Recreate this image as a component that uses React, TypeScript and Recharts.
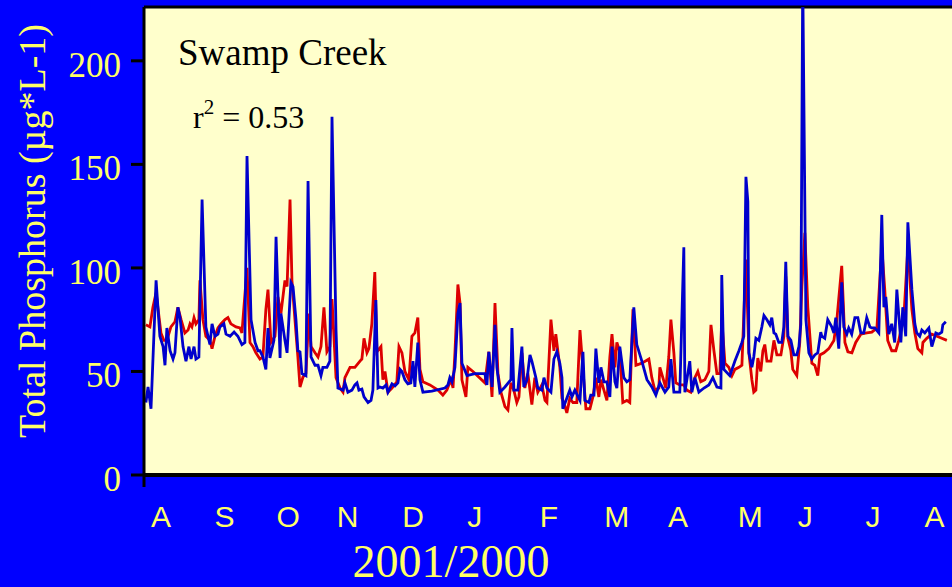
import React from 'react';
import { LineChart, Line, XAxis, YAxis, CartesianGrid, ReferenceLine } from 'recharts';

// Days since start of record (Aug 2000) and Total Phosphorus (µg/L)
const blueDays = [0.9,1.9,3.3,5.7,7.5,9.0,9.9,10.8,12.3,13.7,14.6,16.0,17.0,18.4,19.8,21.2,22.2,23.6,24.5,25.9,27.4,29.2,31.1,32.1,33.5,34.9,35.8,37.7,38.7,40.6,42.5,44.3,46.2,47.6,48.6,50.5,52.4,53.8,54.7,56.1,57.5,58.5,59.4,61.3,62.3,64.2,64.6,66.5,67.5,69.3,70.3,71.7,72.6,73.6,74.5,76.4,77.4,78.8,80.7,82.1,83.5,84.4,86.3,87.7,88.7,90.6,91.5,93.9,94.8,96.2,98.1,99.5,100.5,101.4,102.8,103.8,105.7,107.1,108.0,109.4,110.4,111.3,112.7,114.2,115.1,117.0,118.4,119.8,120.8,121.7,123.1,124.5,125.9,126.9,127.8,129.2,130.2,131.6,135.8,142.0,143.4,144.3,145.3,146.7,148.1,149.1,150.0,152.4,156.1,160.8,161.8,162.7,164.2,165.6,166.5,167.9,170.3,173.1,173.6,174.5,176.4,178.3,179.2,180.7,182.1,183.0,184.9,185.8,187.7,188.7,190.1,192.0,193.4,194.8,196.2,197.2,197.6,199.1,200.9,201.9,203.3,205.2,205.7,207.1,208.0,209.9,210.8,212.3,213.2,214.6,215.6,217.0,218.4,219.8,220.8,222.2,223.1,224.5,226.4,227.8,229.2,231.1,232.5,234.9,237.3,239.6,241.5,243.4,245.8,247.6,248.6,250.0,252.8,254.7,255.2,257.5,258.5,259.9,261.8,264.2,266.5,268.4,270.3,272.2,272.6,273.6,276.4,278.8,280.7,282.1,283.0,284.0,284.9,285.4,286.8,287.7,288.7,290.1,291.5,292.5,293.9,295.3,296.2,297.2,298.1,299.5,300.9,301.9,302.8,303.8,305.2,306.6,308.0,309.0,309.9,310.8,312.3,313.7,315.1,316.5,317.9,319.3,319.8,321.2,322.6,324.5,325.5,326.4,327.8,329.2,330.2,331.6,332.5,333.9,335.4,336.8,338.2,339.6,341.0,342.5,343.4,344.8,346.7,348.1,349.1,350.0,351.4,352.8,354.2,355.2,357.1,358.0,359.4,360.4,362.3,363.7,364.6,366.0,367.0,368.4,370.3,371.7,373.6,375.0,376.4,376.9,378.3];
const blueValues = [35,42.5,32,94,67,62,53,71,60,56,59,81,76,62,55,62,56,62,56,57,133,71.5,63,73,67,68,71.5,73,68,67,69,67,63,64,154,75,64,60,60,57,51,71,56.5,65,115,56.5,78,65,59,93,91,75,60,59.5,49,48,142,57,53,53,48,52,52,55,173,70,42,41,44.5,40,41,43.5,44.5,41,41.5,37.7,35,36,41,84.5,42,42.5,42,43.5,40,44,43,44.5,51,50,46,44,44.5,55,42.5,64,46,40,40.5,42,43.5,47,45,52,78,83,54,48,49,49,43.5,59.5,42.5,72.5,52,40,42.5,46,71,41,41,62,42.5,46,58,55,47,42,41,47,42,40,56,59.5,54,47,32,36,41,37.7,41,37,36,59.5,36,35,38.6,38.6,61,44.5,52,45,45,37.7,62,45,42,62,47,45,46,81,63,55,46,42.5,38.6,44.5,40,42.5,56,40,40,110,40,55,40,47,40,42,43.5,47,42.5,42,96.6,51,48,55,60,64,67,144,132,59,52,57,66,65,71.5,77,75,72.5,76,68.6,68,64,64,71.5,103,67,65,58,58,62,73,240,75,59,56,58,59,69,67,66,75,71.5,68.6,76,61,93,71.5,68,71,68,76,76,68.6,68.6,76,71.5,71,71,68.6,125.6,81,86,68,73,64,89.5,64,81,67,122,89.5,73,68.6,67,70,68.6,71,62,68.6,68,69,72.5,74];

const redDays = [0.9,2.8,4.2,5.7,8.0,9.4,10.8,12.7,14.6,16.0,17.5,19.3,20.8,21.7,22.6,23.6,24.5,25.9,26.4,27.8,29.2,31.1,32.1,33.5,34.9,36.3,38.2,39.6,41.0,43.4,45.3,46.2,48.6,50.0,51.4,52.8,54.7,56.1,57.5,58.5,59.9,61.8,63.2,64.6,66.5,67.5,68.9,69.8,71.7,72.6,73.6,75.0,76.4,77.8,78.8,80.7,82.1,83.5,84.9,86.3,87.7,88.7,90.6,92.5,93.9,94.8,97.2,99.5,101.9,102.8,103.8,105.2,106.1,107.5,108.9,109.9,111.8,112.7,113.7,115.1,117.0,119.3,120.3,121.7,123.1,125.0,126.4,127.8,129.2,130.2,131.6,134.9,138.7,141.0,142.9,144.8,145.8,146.7,148.1,149.1,150.0,151.9,152.8,155.2,160.8,162.7,164.2,165.6,167.0,168.4,170.3,171.7,173.1,174.5,175.9,176.9,178.3,179.7,181.1,183.0,184.4,185.8,187.7,189.2,190.1,192.0,193.4,194.3,196.2,197.2,198.1,199.5,200.9,202.4,204.2,205.7,207.1,208.5,210.4,211.8,213.2,214.6,215.6,217.0,218.4,219.8,220.8,222.2,223.1,224.5,225.9,227.8,229.2,230.7,232.1,234.9,238.2,239.6,241.0,242.9,243.4,244.8,246.2,247.6,248.6,250.0,250.9,252.8,254.7,256.1,258.0,259.9,261.3,262.7,264.6,266.5,267.5,268.9,270.3,271.7,272.6,274.1,275.9,277.4,278.8,280.7,282.1,284.0,285.4,286.8,287.7,288.7,289.6,291.0,292.0,292.9,293.9,295.8,297.2,298.6,300.5,301.9,302.8,303.8,305.2,306.1,308.0,309.4,310.4,311.8,313.2,315.1,316.5,317.9,318.9,320.8,323.1,325.5,326.9,329.2,330.7,332.1,334.0,335.8,338.2,341.0,343.4,345.8,348.1,349.5,350.9,352.8,354.7,356.1,358.5,360.4,362.3,363.7,365.1,367.0,367.5,369.3,371.7,374.1,376.4,378.8];
const redValues = [72.5,71.5,81,88,68.6,65,65,71.5,74,81,75,68.6,70,73,71.5,76,73,75,94,75,67,65,61,67,71,73,75,76,73,71.5,71,68.6,100,64,62,59,56,57,80,89.5,64,67,86,78,94,91,133,94,68.6,57,42.5,47.3,49,78,62,59,57,62,81,59.5,62,85,47,42,40,47,52,52,55,56,66,59,61,73,98,59.5,62,46,50,40,42,45,62,59,50,46,67,68.6,76,51,45,43.5,41,38.6,41,46,42,59,92,83,46,37.7,52,50,44.5,59.5,37.7,83,49,40,33,31.4,44.5,41,35,37.7,59,42,49,34,47,40,43.5,36,35,75,60,68,52,37,35,30,37,35,35,70,51,32,32,37.7,47,37.7,46,41,36,57,68,52,64,59.5,35,36,35,80,53,54,56,47,41,42,52,47,42,57,75,59,44.5,43.5,43.5,41,40,47,50,45,46,50,72.5,60,49,49,75,54,52,48,51,52,53,104,59,46,40,41,56.5,50,60,63,55,55,65,58,58,67,96,66,60,51,48,64,91,117,81,54,53,48,58,59,61,65,75,101,64,59.5,59,64,68,68.6,69,71,110,89.5,65,60,60,65,76,110,80,68.6,61,59,64,66,68,67,66,65];

const monthTickDays = [8, 38, 68, 96, 127, 156, 191, 223, 252, 286, 312, 344, 373];
const monthLabels = ['A', 'S', 'O', 'N', 'D', 'J', 'F', 'M', 'A', 'M', 'J', 'J', 'A'];
const yTicks = [0, 50, 100, 150, 200];

const blueData = blueDays.map((d, i) => ({ day: d, tp: blueValues[i] }));
const redData = redDays.map((d, i) => ({ day: d, tp: redValues[i] }));

const YELLOW = '#FFFF66';
const SERIF = '"Liberation Serif", "Times New Roman", serif';
const SANS = '"Liberation Sans", Arial, sans-serif';

const YTick = (props: any) => {
  const { x, y, payload } = props;
  return (
    <text x={x} y={y + 16} textAnchor="end" fontSize={35} fill={YELLOW} fontFamily={SERIF}>
      {payload.value}
    </text>
  );
};

const XTick = (props: any) => {
  const { x, y, payload } = props;
  const idx = monthTickDays.indexOf(payload.value);
  return (
    <text x={x} y={y + 52} textAnchor="middle" fontSize={30} fill={YELLOW} fontFamily={SANS}>
      {idx >= 0 ? monthLabels[idx] : ''}
    </text>
  );
};

export default function App() {
  return (
    <div style={{ position: 'fixed', left: 0, top: 0, width: 952, height: 587, overflow: 'hidden', background: '#0000FF' }}>
      <LineChart width={960} height={587} margin={{ top: 7, right: 0, bottom: 0, left: 0 }}>
        <CartesianGrid fill="#FFFFCC" horizontal={false} vertical={false} />
        <XAxis
          type="number"
          dataKey="day"
          domain={[0, 385]}
          ticks={monthTickDays}
          interval={0}
          tickLine={false}
          tickSize={0}
          tickMargin={0}
          height={112}
          axisLine={{ stroke: '#000', strokeWidth: 4 }}
          tick={<XTick />}
          allowDuplicatedCategory={false}
        />
        <YAxis
          type="number"
          domain={[0, 226]}
          ticks={yTicks}
          allowDataOverflow
          width={144}
          tickSize={13}
          tickMargin={10}
          axisLine={{ stroke: '#000', strokeWidth: 3 }}
          tickLine={{ stroke: '#000', strokeWidth: 3 }}
          tick={<YTick />}
        />
        <ReferenceLine y={226} stroke="#000" strokeWidth={3} />
        <Line data={redData} dataKey="tp" type="linear" stroke="#DD0000" strokeWidth={2.8} dot={false} isAnimationActive={false} />
        <Line data={blueData} dataKey="tp" type="linear" stroke="#0000CC" strokeWidth={2.8} dot={false} isAnimationActive={false} />
      </LineChart>
      <svg width={952} height={587} style={{ position: 'absolute', left: 0, top: 0, pointerEvents: 'none' }}>
        <line x1={144} y1={475} x2={144} y2={487} stroke="#000" strokeWidth={3} />
        <text x={178} y={65} fontSize={37} fontFamily={SERIF} fill="#000">Swamp Creek</text>
        <text x={193} y={128} fontSize={32} fontFamily={SERIF} fill="#000">
          r<tspan fontSize={21} dy={-14}>2</tspan><tspan dy={14}> = 0.53</tspan>
        </text>
        <text
          x={45}
          y={231}
          transform="rotate(-90, 45, 231)"
          textAnchor="middle"
          fontSize={38}
          fontFamily={SERIF}
          fill={YELLOW}
        >
          Total Phosphorus (µg*L-1)
        </text>
        <text x={451} y={577} textAnchor="middle" fontSize={46} fontFamily={SERIF} fill={YELLOW}>
          2001/2000
        </text>
      </svg>
    </div>
  );
}
